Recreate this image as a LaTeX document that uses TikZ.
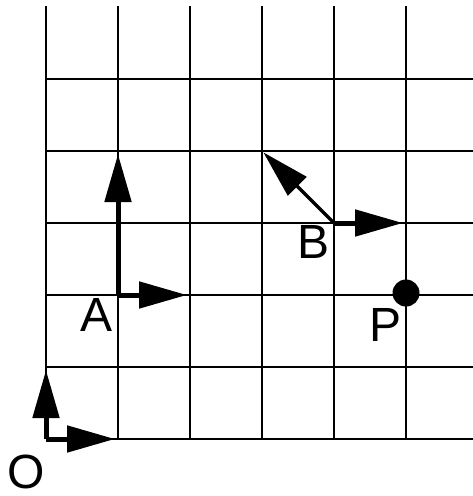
\documentclass[tikz,border=0pt]{standalone}
\usepackage{fontspec}
\setmainfont{Liberation Sans}
\usetikzlibrary{arrows.meta}
\begin{document}
\begin{tikzpicture}[x=1pt,y=-1pt,
  gridline/.style={line width=1.5pt,black},
  vec/.style={line width=5pt,-{Triangle[length=48pt,width=26pt]},shorten >=3pt},
  vecthin/.style={line width=3.2pt,-{Triangle[length=48pt,width=26pt]},shorten >=2pt},
  lbl/.style={inner sep=0pt,font=\fontsize{48}{48}\selectfont}]
\useasboundingbox (0,0) rectangle (473,496);
% grid
\foreach \i in {0,...,5} {
  \draw[gridline] (46+72*\i,6) -- (46+72*\i,439);
  \draw[gridline] (46,79+72*\i) -- (473,79+72*\i);
}
% frames
\coordinate (O) at (46,439);
\coordinate (Ox) at (118,439);
\coordinate (Oy) at (46,367);
\coordinate (A) at (118,295);
\coordinate (Ax) at (190,295);
\coordinate (Ay) at (118,151);
\coordinate (B) at (334,223);
\coordinate (Bx) at (406,223);
\coordinate (By) at (262,151);
\coordinate (P) at (406,293);
\draw[vec] (O) -- (Ox);
\draw[vec] (O) -- (Oy);
\draw[vec] (A) -- (Ax);
\draw[vec] (A) -- (Ay);
\draw[vec] (B) -- (Bx);
\draw[vecthin] (B) -- (By);
\fill (P) circle (13.5pt);
% labels
\node[lbl] (lO) at (26,472) {O};
\node[lbl] (lA) at (97,315) {A};
\node[lbl] (lB) at (314,242) {B};
\node[lbl] (lP) at (386,325) {P};
\end{tikzpicture}
\end{document}
